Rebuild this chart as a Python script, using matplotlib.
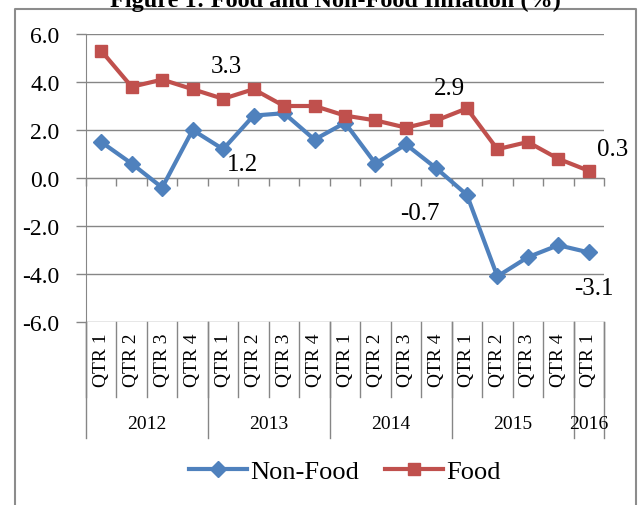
#!/usr/bin/env python3
# -*- coding: utf-8 -*-

import numpy as np
import matplotlib
matplotlib.use("Agg")
import matplotlib.pyplot as plt
import matplotlib.transforms as mtransforms
from matplotlib.lines import Line2D

# データ
quarters = ["QTR 1", "QTR 2", "QTR 3", "QTR 4"] * 4 + ["QTR 1"]
years = ["2012", "2013", "2014", "2015", "2016"]
year_len = [4, 4, 4, 4, 1]
non_food = [1.5, 0.6, -0.4, 2.0, 1.2, 2.6, 2.7, 1.6,
            2.3, 0.6, 1.4, 0.4, -0.7, -4.1, -3.3, -2.8, -3.1]
food = [5.3, 3.8, 4.1, 3.7, 3.3, 3.7, 3.0, 3.0,
        2.6, 2.4, 2.1, 2.4, 2.9, 1.2, 1.5, 0.8, 0.3]
yticks = [-6.0, -4.0, -2.0, 0.0, 2.0, 4.0, 6.0]

# ラベル表示する点 (index, dx, dy) ※ピクセル単位のずれ
labels_food = [(4, 3, 33), (12, -17, 20), (16, 24, 22)]
labels_nf = [(4, 19, -15), (12, -47, -18), (16, 5, -36)]

BLUE = "#4F81BD"
RED = "#C0504D"
GRID = "#868686"

plt.rcParams['font.family'] = ['Liberation Serif', 'DejaVu Serif']

W, H = 639, 506
fig = plt.figure(figsize=(W / 100, H / 100), dpi=100)

# 外枠 (下辺なし)
fx = [15 / W, 15 / W, 636 / W, 636 / W]
fy = [0, 1 - 10 / H, 1 - 10 / H, 0]
fig.add_artist(Line2D(fx, fy, transform=fig.transFigure, color="#8c8c8c", linewidth=1.5))

fig.text(335 / W, 1 - 7 / H, "Figure 1: Food and Non-Food Inflation (%)",
         ha="center", va="baseline", fontsize=17.5, fontweight="bold")

L, R, T, B = 86, 604, 35, 323
ax = fig.add_axes([L / W, (H - B) / H, (R - L) / W, (B - T) / H])

x = np.arange(len(food))
ax.plot(x, non_food, color=BLUE, linewidth=3, marker="D", markersize=8,
        label="Non-Food", clip_on=False, zorder=3)
ax.plot(x, food, color=RED, linewidth=3, marker="s", markersize=8,
        label="Food", clip_on=False, zorder=3)

for i, dx, dy in labels_food:
    ax.annotate(f"{food[i]:.1f}", (x[i], food[i]), xytext=(dx, dy),
                textcoords="offset pixels", ha="center", va="center", fontsize=18)
for i, dx, dy in labels_nf:
    ax.annotate(f"{non_food[i]:.1f}", (x[i], non_food[i]), xytext=(dx, dy),
                textcoords="offset pixels", ha="center", va="center", fontsize=18)

ax.set_xlim(-0.5, len(food) - 0.5)
ax.set_ylim(-6, 6)
ax.set_yticks(yticks)
ax.set_yticklabels([f"{v:.1f}" for v in yticks], fontsize=17)
ax.yaxis.grid(True, color=GRID, linewidth=1)
ax.set_axisbelow(True)
ax.tick_params(axis="y", length=7, color=GRID, width=1, pad=12)

for s in ["top", "right"]:
    ax.spines[s].set_visible(False)
ax.spines["left"].set_color(GRID)
ax.spines["bottom"].set_position(("data", 0))
ax.spines["bottom"].set_color(GRID)
ax.set_xticks(np.arange(-0.5, len(food), 1.0))
ax.set_xticklabels([])
ax.tick_params(axis="x", length=6, color=GRID, width=1, direction="out")

# カテゴリ軸 (下部)
trans = mtransforms.blended_transform_factory(ax.transData, ax.transAxes)
ph = B - T
q_bot = -(398 - B) / ph
y_bot = -(439 - B) / ph
for i, q in enumerate(quarters):
    ax.text(x[i], -(360 - B) / ph, q, transform=trans, rotation=90,
            ha="center", va="center", fontsize=14)
for b in np.arange(-0.5, len(food), 1.0):
    ax.plot([b, b], [0, q_bot], transform=trans, color=GRID, linewidth=1, clip_on=False)
start = 0
for yname, n in zip(years, year_len):
    ax.text(start - 0.5 + n / 2, -(425 - B) / ph, yname, transform=trans,
            ha="center", va="center", fontsize=14)
    ax.plot([start - 0.5, start - 0.5], [0, y_bot], transform=trans,
            color=GRID, linewidth=1, clip_on=False)
    start += n
ax.plot([start - 0.5, start - 0.5], [0, y_bot], transform=trans,
        color=GRID, linewidth=1, clip_on=False)

fig.legend(loc="center", bbox_to_anchor=(345 / W, 1 - 472 / H), ncol=2,
           frameon=False, fontsize=19, handlelength=2.2, handletextpad=0.1,
           columnspacing=1.0)

fig.savefig("out.png", dpi=100)
